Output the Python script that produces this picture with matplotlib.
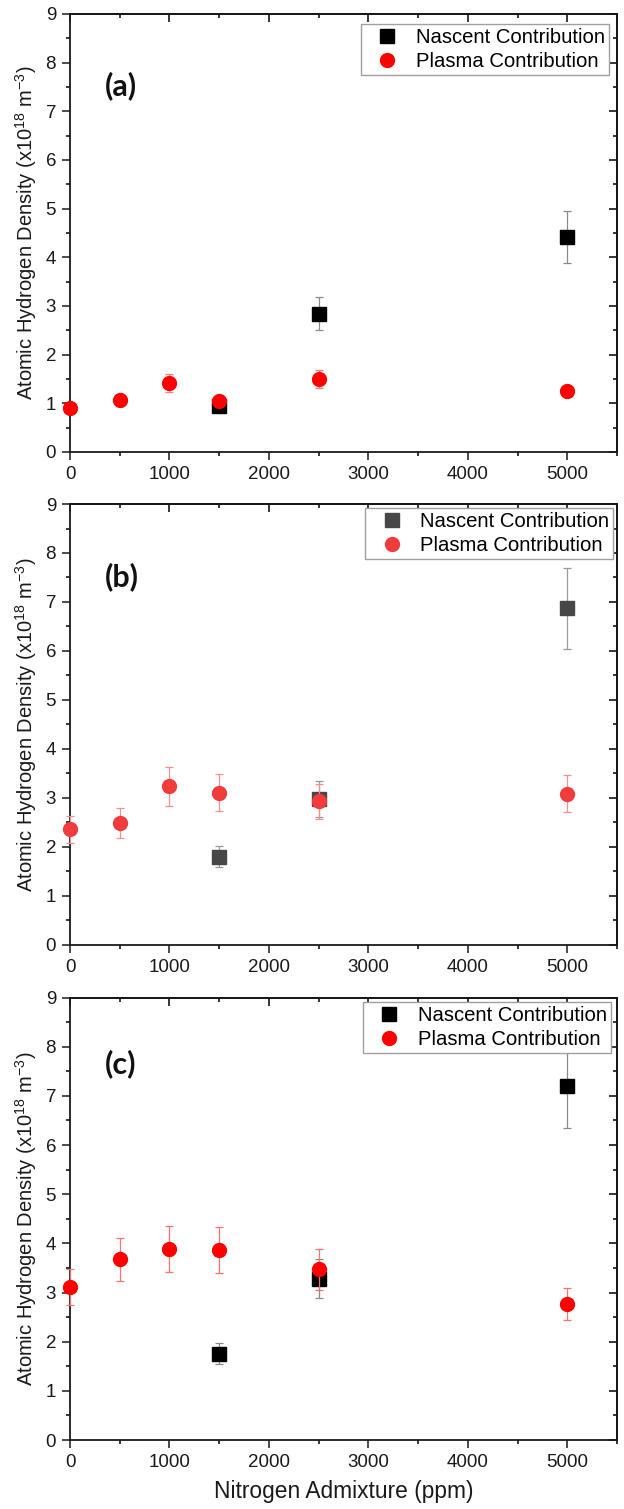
import matplotlib
matplotlib.use("Agg")
import matplotlib.pyplot as plt
from matplotlib.ticker import MultipleLocator

plt.rcParams['font.family'] = ['Liberation Sans', 'DejaVu Sans']
plt.rcParams['mathtext.fontset'] = 'custom'
plt.rcParams['mathtext.rm'] = 'Liberation Sans'
plt.rcParams['mathtext.default'] = 'regular'

# x positions (ppm)
x_nascent = [1500, 2500, 5000]
x_plasma = [0, 500, 1000, 1500, 2500, 5000]

# panel (a)
a_nascent = [0.94, 2.84, 4.41]
a_nascent_err = [0.05, 0.34, 0.53]
a_plasma = [0.90, 1.06, 1.42, 1.04, 1.50, 1.26]
a_plasma_err = [0.05, 0.05, 0.18, 0.05, 0.18, 0.10]

# panel (b)
b_nascent = [1.80, 2.98, 6.87]
b_nascent_err = [0.21, 0.36, 0.82]
b_plasma = [2.36, 2.49, 3.24, 3.11, 2.93, 3.09]
b_plasma_err = [0.28, 0.30, 0.40, 0.38, 0.35, 0.38]

# panel (c)
c_nascent = [1.76, 3.28, 7.21]
c_nascent_err = [0.21, 0.40, 0.87]
c_plasma = [3.11, 3.68, 3.88, 3.86, 3.47, 2.77]
c_plasma_err = [0.37, 0.44, 0.47, 0.47, 0.42, 0.33]

panel_tags = ['(a)', '(b)', '(c)']
legend_labels = ['Nascent Contribution', 'Plasma Contribution']

fig = plt.figure(figsize=(6.24, 15.09), dpi=100)

# [left, bottom, width, height] in figure fraction
boxes = [
    [0.1122, 0.7005, 0.8766, 0.2903],
    [0.1122, 0.3738, 0.8766, 0.2922],
    [0.1122, 0.0457, 0.8766, 0.2932],
]

styles = [
    dict(sq='black', sq_err='#8a8a8a', ci='#ff0000', ci_err='#ff7a7a'),
    dict(sq='#474747', sq_err='#9a9a9a', ci='#f03c3c', ci_err='#f49090'),
    dict(sq='black', sq_err='#8a8a8a', ci='#ff0000', ci_err='#ff7070'),
]

data = [
    (a_nascent, a_nascent_err, a_plasma, a_plasma_err),
    (b_nascent, b_nascent_err, b_plasma, b_plasma_err),
    (c_nascent, c_nascent_err, c_plasma, c_plasma_err),
]

legend_anchor = [(0.985, 0.977), (0.993, 0.991), (0.989, 0.991)]
tag_y = [0.835, 0.835, 0.85]

for i, box in enumerate(boxes):
    ax = fig.add_axes(box)
    nas, nas_err, pla, pla_err = data[i]
    st = styles[i]

    e1 = ax.errorbar(x_nascent, nas, yerr=nas_err, fmt='s', ms=9.5,
                     color=st['sq'], mec=st['sq'], ecolor=st['sq_err'],
                     elinewidth=0.9, capsize=3, capthick=0.9, zorder=3,
                     label=legend_labels[0])
    e2 = ax.errorbar(x_plasma, pla, yerr=pla_err, fmt='o', ms=10,
                     color=st['ci'], mec=st['ci'], ecolor=st['ci_err'],
                     elinewidth=0.9, capsize=3, capthick=0.9, zorder=4,
                     label=legend_labels[1])
    for cont in (e1, e2):
        for art in cont.get_children():
            art.set_clip_on(False)

    ax.set_xlim(0, 5500)
    ax.set_ylim(0, 9)
    ax.xaxis.set_major_locator(MultipleLocator(1000))
    ax.xaxis.set_minor_locator(MultipleLocator(500))
    ax.yaxis.set_major_locator(MultipleLocator(1))
    ax.yaxis.set_minor_locator(MultipleLocator(0.5))
    ax.tick_params(which='major', direction='out', length=6, width=1.1,
                   labelsize=13.5, pad=4, colors='#1a1a1a')
    ax.tick_params(which='minor', direction='out', length=3, width=1.1)
    for sp in ax.spines.values():
        sp.set_linewidth(1.3)
        sp.set_color('#1a1a1a')

    # mirror ticks pointing inward on top and right
    top = ax.secondary_xaxis('top')
    top.xaxis.set_major_locator(MultipleLocator(1000))
    top.xaxis.set_minor_locator(MultipleLocator(500))
    top.tick_params(which='major', direction='in', length=6, width=1.1, labeltop=False)
    top.tick_params(which='minor', direction='in', length=3, width=1.1)
    top.spines['top'].set_linewidth(1.3)
    right = ax.secondary_yaxis('right')
    right.yaxis.set_major_locator(MultipleLocator(1))
    right.yaxis.set_minor_locator(MultipleLocator(0.5))
    right.tick_params(which='major', direction='in', length=6, width=1.1, labelright=False)
    right.tick_params(which='minor', direction='in', length=3, width=1.1)
    right.spines['right'].set_linewidth(1.3)

    ax.set_ylabel('Atomic Hydrogen Density (x10$^{18}$ m$^{-3}$)', fontsize=14.5,
                  color='#1a1a1a')
    ax.yaxis.set_label_coords(-0.057, 0.5)

    ax.text(0.064, tag_y[i], panel_tags[i], transform=ax.transAxes,
            fontsize=22, fontweight='bold', family=['Lato', 'DejaVu Sans'],
            ha='left', va='center', color='#111111')

    handles = [
        plt.Line2D([], [], ls='none', marker='s', ms=9.5, color=st['sq']),
        plt.Line2D([], [], ls='none', marker='o', ms=10, color=st['ci']),
    ]
    leg = ax.legend(handles, legend_labels, loc='upper right',
                    bbox_to_anchor=legend_anchor[i], fontsize=14.6,
                    frameon=True, fancybox=False, framealpha=1,
                    edgecolor='#a0a0a0', borderpad=0.2, labelspacing=0.25,
                    handlelength=2.2, handletextpad=0.3, borderaxespad=0)
    leg.get_frame().set_linewidth(1.0)
    leg.set_zorder(10)

    if i == 2:
        ax.set_xlabel('Nitrogen Admixture (ppm)', fontsize=16.4, color='#1a1a1a')
        ax.xaxis.set_label_coords(0.5, -0.09)
        ax.xaxis.label.set_va('top')

fig.savefig('out.png', dpi=100)
